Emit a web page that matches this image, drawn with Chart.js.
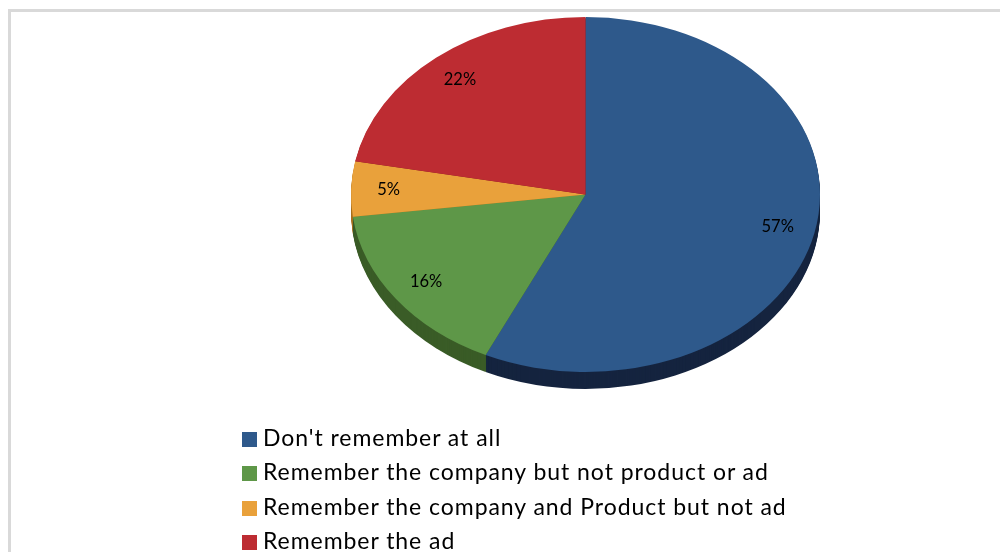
<!DOCTYPE html>
<html>
<head>
<meta charset="utf-8">
<script src="https://cdn.jsdelivr.net/npm/chart.js@4/dist/chart.umd.min.js"></script>
<style>
  html, body { margin: 0; padding: 0; background: #fff; }
  #wrap { position: relative; width: 1000px; height: 552px; overflow: hidden; }
  #frame { position: absolute; left: 8px; top: 9px; width: 1100px; height: 700px; border: 3px solid #d9d9d9; }
  #pie { position: absolute; left: 0; top: 0; }
  #legend { position: absolute; left: 242px; top: 420px; font-family: Lato, "Open Sans", sans-serif; font-size: 23px; letter-spacing: 0.95px; color: #000; }
  #legend .row { height: 34.4px; line-height: 34.4px; white-space: nowrap; }
  #legend .box { display: inline-block; width: 15px; height: 15px; margin-right: 6px; vertical-align: -1px; }
</style>
</head>
<body>
<div id="wrap">
  <div id="frame"></div>
  <canvas id="pie" width="1000" height="552"></canvas>
  <div id="legend"></div>
</div>
<script>
const labels = [
  "Don't remember at all",
  'Remember the company but not product or ad',
  'Remember the company and Product but not ad',
  'Remember the ad'
];
const shares = [57, 16, 5, 22];
const colors = ['#2e598b', '#5e9748', '#e9a13b', '#bd2c32'];
const sideColors = ['#15243f', '#3a5c27', '#a8701f', '#7e1c20'];

// flattened "3D" look: squash the pie vertically and extrude the front rim
const tiltY = 0.757;
const centerY = 194.5;
const depth = 17;

function applyTilt(ctx, arc, dy) {
  ctx.translate(0, centerY + dy);
  ctx.scale(1, tiltY);
  ctx.translate(0, -arc.y);
}

const tiltPlugin = {
  id: 'tilt',
  beforeDatasetsDraw(chart) {
    const ctx = chart.ctx;
    const arcs = chart.getDatasetMeta(0).data;
    // rim: stacked copies of each slice in its darker shade
    for (let k = depth; k >= 1; k--) {
      arcs.forEach((a, i) => {
        ctx.save();
        applyTilt(ctx, a, k);
        ctx.beginPath();
        ctx.moveTo(a.x, a.y);
        ctx.arc(a.x, a.y, a.outerRadius, a.startAngle, a.endAngle);
        ctx.closePath();
        ctx.fillStyle = sideColors[i];
        ctx.fill();
        ctx.restore();
      });
    }
    ctx.save();
    applyTilt(ctx, arcs[0], 0);
  },
  afterDatasetsDraw(chart) {
    const ctx = chart.ctx;
    ctx.restore();
    // percentage labels inside each slice
    const arcs = chart.getDatasetMeta(0).data;
    ctx.save();
    ctx.font = '16.5px Lato, "Open Sans", sans-serif';
    ctx.fillStyle = '#000';
    ctx.textAlign = 'center';
    ctx.textBaseline = 'middle';
    arcs.forEach((a, i) => {
      const mid = (a.startAngle + a.endAngle) / 2;
      const r = a.outerRadius * 0.84;
      const x = a.x + Math.cos(mid) * r;
      const y = centerY + Math.sin(mid) * r * tiltY;
      ctx.fillText(shares[i] + '%', x, y);
    });
    ctx.restore();
  }
};

new Chart(document.getElementById('pie'), {
  type: 'pie',
  data: {
    labels: labels,
    datasets: [{
      data: shares,
      backgroundColor: colors,
      borderWidth: 0,
      clip: false
    }]
  },
  options: {
    responsive: false,
    animation: false,
    events: [],
    layout: { padding: { left: 351, right: 180, top: 40, bottom: 40 } },
    plugins: {
      legend: { display: false },
      tooltip: { enabled: false }
    }
  },
  plugins: [tiltPlugin]
});

// legend as plain markup below the pie
const legendEl = document.getElementById('legend');
labels.forEach((name, i) => {
  const row = document.createElement('div');
  row.className = 'row';
  const box = document.createElement('span');
  box.className = 'box';
  box.style.background = colors[i];
  row.appendChild(box);
  row.appendChild(document.createTextNode(name));
  legendEl.appendChild(row);
});
</script>
</body>
</html>
